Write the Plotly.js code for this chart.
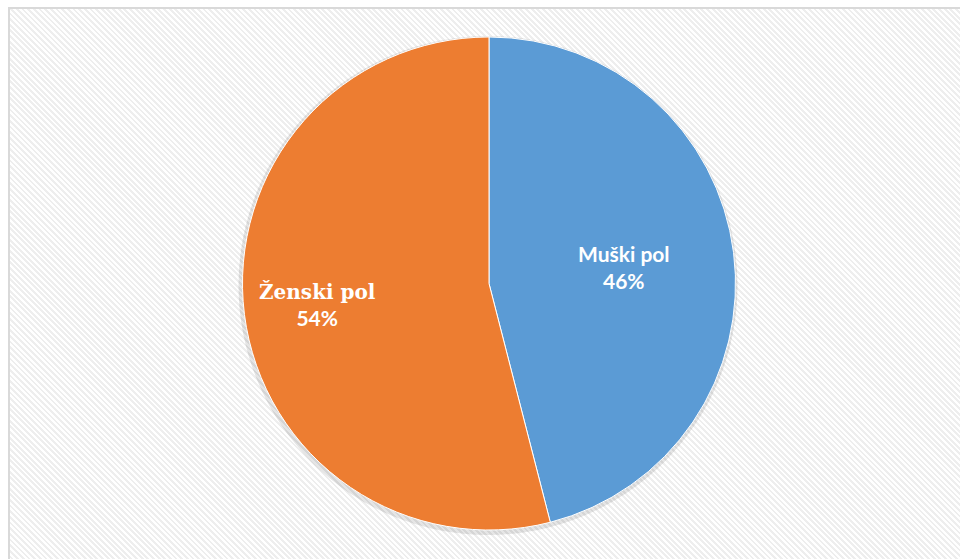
<!DOCTYPE html>
<html>
<head>
<meta charset="utf-8">
<script src="https://cdn.plot.ly/plotly-3.0.1.min.js"></script>
<style>
  html, body { margin: 0; padding: 0; background: #ffffff; }
  #wrap { position: relative; width: 960px; height: 559px; overflow: hidden; background: #ffffff; }
  #frame {
    position: absolute; left: 8px; top: 7px; width: 980px; height: 580px;
    border-left: 2px solid #d9d9d9; border-top: 2px solid #d9d9d9;
    background: repeating-linear-gradient(45deg, #ffffff 0px, #ffffff 2px, #eeeeee 2px, #eeeeee 4px);
  }
  #chart { position: absolute; left: 0; top: 0; width: 960px; height: 559px; }
</style>
</head>
<body>
<div id="wrap">
  <div id="frame"></div>
  <div id="chart"></div>
</div>
<script>
const categories = ['Muški pol', 'Ženski pol'];
const values = [46, 54];
const colors = ['#5B9BD5', '#ED7D31'];
const labelFonts = ['Lato, "Open Sans", sans-serif', '"DejaVu Serif", "Liberation Serif", serif'];
const labelSizes = [21, 20];
const labelRadius = [0.55, 0.70];

const W = 960, H = 559;
const area = 510;
const l = 234, t = 28.5;
const r = W - l - area, b = H - t - area;
const inset = 8 / area;
const R = 0.5 - inset; // pie radius in paper units

const shadow = {
  type: 'pie',
  values: [1],
  labels: ['shadow'],
  sort: false,
  textinfo: 'none',
  hoverinfo: 'skip',
  showlegend: false,
  marker: { colors: ['rgba(0,0,0,0.10)'], line: { width: 0 } },
  domain: { x: [inset - 4 / area, 1 - inset + 2 / area], y: [inset - 5 / area, 1 - inset + 1 / area] }
};

const pie = {
  type: 'pie',
  labels: categories,
  values: values,
  sort: false,
  direction: 'clockwise',
  rotation: 0,
  textinfo: 'none',
  hoverinfo: 'label+percent',
  showlegend: false,
  marker: { colors: colors, line: { color: '#ffffff', width: 1 } },
  domain: { x: [inset, 1 - inset], y: [inset, 1 - inset] }
};

const total = values.reduce((a, v) => a + v, 0);
let cum = 0;
const annotations = values.map((v, i) => {
  const mid = (cum + v / 2) / total * 2 * Math.PI;
  cum += v;
  const pct = Math.round(v / total * 100) + '%';
  return {
    xref: 'paper', yref: 'paper',
    x: 0.5 + labelRadius[i] * R * Math.sin(mid),
    y: 0.5 + labelRadius[i] * R * Math.cos(mid),
    xanchor: 'center', yanchor: 'middle',
    showarrow: false,
    align: 'center',
    text: '<span style="font-family:' + labelFonts[i].replace(/"/g, "'") + ';font-size:' + labelSizes[i] + 'px"><b>' + categories[i] + '</b></span><br><b>' + pct + '</b>',
    font: { family: 'Lato, "Open Sans", sans-serif', size: 21, color: '#ffffff' }
  };
});

Plotly.newPlot('chart', [shadow, pie], {
  width: W, height: H,
  margin: { l: l, r: r, t: t, b: b, pad: 0 },
  paper_bgcolor: 'rgba(0,0,0,0)',
  plot_bgcolor: 'rgba(0,0,0,0)',
  showlegend: false,
  annotations: annotations
}, { staticPlot: true, displayModeBar: false });
</script>
</body>
</html>
